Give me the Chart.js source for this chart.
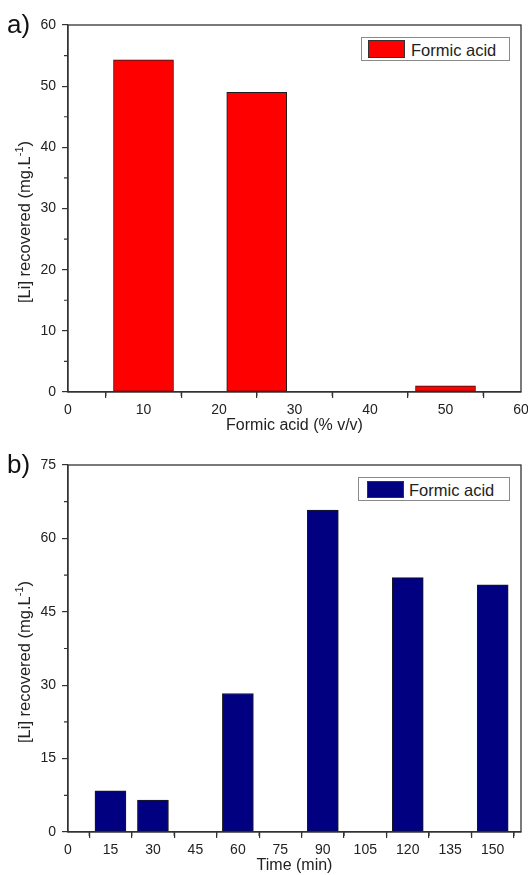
<!DOCTYPE html>
<html><head><meta charset="utf-8">
<script src="https://cdn.jsdelivr.net/npm/chart.js@4/dist/chart.umd.min.js"></script>
<style>
html,body{margin:0;padding:0;background:#fff;}
body{width:528px;height:875px;position:relative;overflow:hidden;font-family:"Liberation Sans",Arial,sans-serif;color:#222;}
.cv{position:absolute;left:0;}
.panel{position:absolute;font-size:26px;line-height:26px;color:#111;}
.legend{position:absolute;border:1px solid #8a8a8a;background:#fff;box-sizing:border-box;}
.legend .sw{position:absolute;border:1px solid #333;box-sizing:border-box;}
.legend .tx{position:absolute;font-size:16.5px;line-height:16px;white-space:nowrap;color:#222;}
.ytitle{position:absolute;white-space:nowrap;font-size:16.5px;line-height:17px;color:#222;transform:translate(-50%,-50%) rotate(-90deg);}
.ytitle sup{font-size:11px;vertical-align:0;position:relative;top:-7px;line-height:0;}
</style></head>
<body>
<canvas id="c1" class="cv" style="top:0" width="528" height="440"></canvas>
<canvas id="c2" class="cv" style="top:440px" width="528" height="435"></canvas>
<div class="panel" style="left:7px;top:11px">a)</div>
<div class="panel" style="left:7px;top:451px">b)</div>
<div class="ytitle" style="left:24px;top:222px">[Li] recovered (mg.L<sup>-1</sup>)</div>
<div class="ytitle" style="left:24px;top:662px">[Li] recovered (mg.L<sup>-1</sup>)</div>
<div class="legend" id="lg1" style="left:361px;top:37px;width:149px;height:24px;">
  <div class="sw" style="left:6px;top:2px;width:37px;height:18px;"></div>
  <div class="tx" style="left:49px;top:3.5px;"></div>
</div>
<div class="legend" id="lg2" style="left:358px;top:477px;width:152px;height:24px;">
  <div class="sw" style="left:8px;top:3px;width:37px;height:17px;"></div>
  <div class="tx" style="left:50px;top:3.5px;"></div>
</div>
<script>
// ---- data ----
const seriesName = 'Formic acid';
// panel a
const acidPercent = [10, 25, 50];
const liByAcid = [54.3, 49.0, 1.0];
const xTicksA = [0, 10, 20, 30, 40, 50, 60];
const xMinorA = [5, 15, 25, 35, 45, 55];
const yTicksA = [0, 10, 20, 30, 40, 50, 60];
const yMinorA = [5, 15, 25, 35, 45, 55];
// panel b
const timeMin = [15, 30, 60, 90, 120, 150];
const liByTime = [8.4, 6.5, 28.3, 65.8, 52.0, 50.5];
const xTicksB = [0, 15, 30, 45, 60, 75, 90, 105, 120, 135, 150];
const xMinorB = [7.5, 22.5, 37.5, 52.5, 67.5, 82.5, 97.5, 112.5, 127.5, 142.5, 157.5];
const yTicksB = [0, 15, 30, 45, 60, 75];
const yMinorB = [7.5, 22.5, 37.5, 52.5, 67.5];

const FAM = '"Liberation Sans", Arial, sans-serif';
const AX = '#333';

function framePlugin(xMinor, yMinor) {
  return {
    id: 'frameMinor',
    afterDraw(chart) {
      const {ctx, chartArea: a, scales} = chart;
      ctx.save();
      ctx.strokeStyle = AX;
      ctx.lineWidth = 1.3;
      ctx.strokeRect(a.left, a.top, a.right - a.left, a.bottom - a.top);
      ctx.lineWidth = 1.2;
      ctx.beginPath();
      xMinor.forEach(v => { const p = scales.x.getPixelForValue(v); ctx.moveTo(p, a.bottom); ctx.lineTo(p, a.bottom + 4); });
      yMinor.forEach(v => { const p = scales.y.getPixelForValue(v); ctx.moveTo(a.left, p); ctx.lineTo(a.left - 4, p); });
      ctx.stroke();
      ctx.restore();
    }
  };
}

function makeChart(id, xs, ys, fill, thickness, xMax, xTicks, yMax, yTicks, xMinor, yMinor, xTitle, xHeight, xTitlePad) {
  const data = xs.map((x, i) => ({x: x, y: ys[i]}));
  return new Chart(document.getElementById(id), {
    type: 'bar',
    data: {datasets: [{
      label: seriesName, data: data,
      backgroundColor: fill, borderColor: '#1a1a1a', borderWidth: 1,
      borderSkipped: false, barThickness: thickness
    }]},
    options: {
      responsive: false, animation: false, devicePixelRatio: 1,
      layout: {padding: {top: 25, right: 7, left: 0, bottom: 0}},
      plugins: {legend: {display: false}, tooltip: {enabled: false}},
      scales: {
        x: {
          type: 'linear', min: 0, max: xMax, offset: false,
          afterBuildTicks: s => { s.ticks = xTicks.map(v => ({value: v})); },
          afterFit: s => { s.height = xHeight; s.paddingRight = 0; s.paddingLeft = 0; },
          grid: {drawOnChartArea: false, drawTicks: true, tickLength: 6, color: AX, lineWidth: 1.2},
          border: {display: true, color: AX, width: 1.3},
          ticks: {font: {family: FAM, size: 14}, color: '#222', padding: 4, maxRotation: 0, autoSkip: false, includeBounds: false},
          title: {display: true, text: xTitle, font: {family: FAM, size: 16}, color: '#222', padding: {top: 0, bottom: xTitlePad}}
        },
        y: {
          type: 'linear', min: 0, max: yMax,
          afterBuildTicks: s => { s.ticks = yTicks.map(v => ({value: v})); },
          afterFit: s => { s.width = 68; },
          grid: {drawOnChartArea: false, drawTicks: true, tickLength: 6, color: AX, lineWidth: 1.2},
          border: {display: true, color: AX, width: 1.3},
          ticks: {font: {family: FAM, size: 14}, color: '#222', padding: 6},
          title: {display: false}
        }
      }
    },
    plugins: [framePlugin(xMinor, yMinor)]
  });
}

makeChart('c1', acidPercent, liByAcid, '#ff0000', 60, 60, xTicksA, 60, yTicksA, xMinorA, yMinorA, 'Formic acid (% v/v)', 48, 5);
makeChart('c2', timeMin, liByTime, '#000080', 31, 160, xTicksB, 75, yTicksB, xMinorB, yMinorB, 'Time (min)', 43, 0);

// legends (HTML) built from the dataset name/colours
[['lg1', '#ff0000'], ['lg2', '#000080']].forEach(([id, col]) => {
  const el = document.getElementById(id);
  el.querySelector('.sw').style.background = col;
  el.querySelector('.tx').textContent = seriesName;
});
</script>
</body></html>
